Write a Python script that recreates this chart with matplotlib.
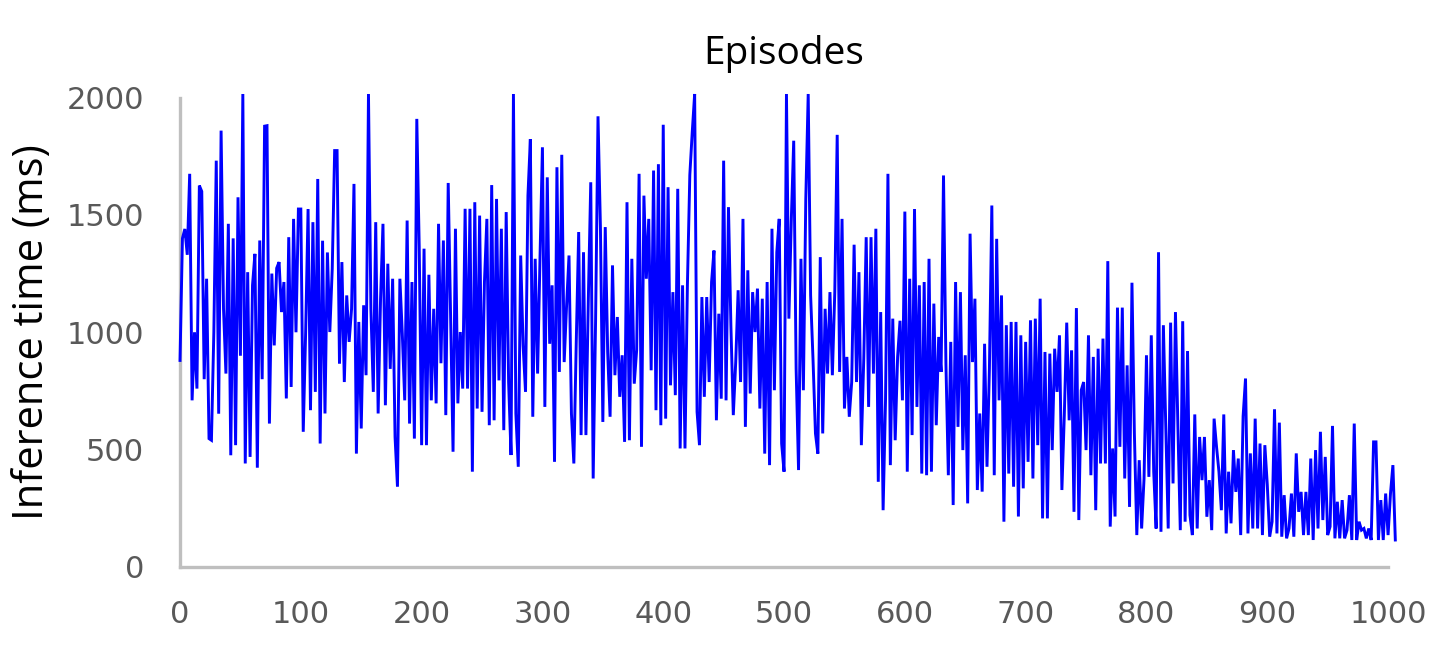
import numpy as np
import matplotlib
matplotlib.use("Agg")
import matplotlib.pyplot as plt

title = "Episodes"
y_label = "Inference time (ms)"
x_ticks = [0, 100, 200, 300, 400, 500, 600, 700, 800, 900, 1000]
y_ticks = [0, 500, 1000, 1500, 2000]

# inference time (ms), one value every 2 episodes
seg_000 = [880, 1400, 1440, 1330, 1675, 710, 1000, 760, 1625, 1600,
           800, 1228, 547, 540, 1000, 1731, 653, 1859, 1100, 824,
           1462, 476, 1400, 519, 1575, 900, 2015, 441, 1256, 469,
           1200, 1334, 423, 1391, 800, 1878, 1880, 611, 1250, 944,
           1273, 1299, 1086, 1214, 718, 1405, 767, 1483, 1000, 1525]
seg_100 = [1525, 576, 1000, 1525, 668, 1469, 746, 1653, 526, 1390,
           654, 1340, 1001, 1270, 1774, 1774, 866, 1299, 788, 1157,
           959, 1100, 1632, 483, 1044, 590, 1115, 817, 2015, 1100,
           746, 1469, 654, 1143, 1462, 689, 1292, 844, 1228, 554,
           342, 1228, 994, 710, 1476, 611, 1214, 547, 1909, 1364]
seg_200 = [519, 1356, 519, 1245, 710, 1100, 697, 1462, 868, 1391,
           647, 1636, 1072, 491, 1441, 697, 1001, 760, 1526, 760,
           1526, 406, 1554, 675, 1497, 661, 1214, 1483, 604, 1627,
           625, 1568, 795, 1441, 583, 1512, 788, 477, 2015, 654,
           427, 1327, 944, 746, 1582, 1823, 640, 1313, 824, 1320]
seg_300 = [1788, 682, 1660, 951, 1200, 448, 1703, 831, 1756, 873,
           1115, 1327, 654, 441, 959, 1427, 562, 1341, 562, 1143,
           1639, 377, 1050, 1920, 1448, 618, 1448, 916, 640, 1285,
           817, 1065, 725, 902, 533, 1554, 540, 1313, 781, 924,
           1675, 512, 1582, 1228, 1483, 838, 1689, 668, 1716, 604]
seg_400 = [1884, 632, 1618, 774, 1171, 732, 1611, 505, 1200, 505,
           1200, 1670, 1852, 2015, 661, 519, 1150, 725, 1150, 788,
           1214, 1348, 625, 1079, 717, 1731, 710, 1533, 1029, 647,
           873, 1179, 788, 1483, 597, 1264, 739, 1171, 1001, 1186,
           675, 1143, 483, 1214, 434, 1441, 753, 1341, 1483, 526]
seg_500 = [406, 2015, 1058, 1476, 1816, 845, 413, 1313, 753, 1568,
           2015, 1157, 881, 569, 483, 1320, 569, 1100, 824, 1171,
           817, 1171, 1841, 831, 1483, 675, 895, 640, 788, 1373,
           788, 1256, 519, 888, 1405, 682, 1405, 824, 1441, 363,
           1086, 242, 710, 1675, 434, 1058, 540, 895, 1049, 710]
seg_600 = [1514, 406, 1228, 562, 1525, 682, 1200, 398, 1214, 391,
           1313, 406, 1122, 604, 980, 831, 1668, 866, 391, 959,
           264, 1214, 597, 1171, 498, 902, 271, 1420, 873, 1143,
           328, 654, 321, 951, 427, 845, 1540, 391, 1398, 710,
           1157, 193, 1030, 398, 1044, 342, 1044, 215, 987, 335]
seg_700 = [959, 448, 1051, 377, 1058, 519, 1143, 207, 916, 207,
           909, 498, 930, 746, 987, 328, 647, 1041, 625, 923,
           235, 1103, 200, 753, 788, 498, 987, 391, 895, 242,
           930, 441, 973, 441, 1303, 172, 505, 215, 1105, 512,
           1105, 377, 859, 256, 1211, 569, 136, 455, 164, 377]
seg_800 = [902, 384, 987, 406, 164, 1341, 150, 1030, 590, 164,
           1041, 356, 1086, 604, 157, 1047, 193, 920, 221, 136,
           650, 164, 554, 370, 554, 214, 370, 157, 632, 512,
           406, 242, 650, 143, 406, 186, 498, 320, 462, 136,
           642, 803, 143, 484, 164, 632, 164, 526, 136, 519]
seg_900 = [352, 129, 193, 672, 143, 615, 129, 306, 122, 164,
           313, 129, 484, 235, 320, 136, 320, 136, 462, 115,
           498, 164, 576, 200, 469, 136, 172, 601, 122, 278,
           122, 285, 122, 157, 306, 115, 611, 115, 193, 157,
           164, 122, 164, 115, 533, 533, 115, 285, 115, 313,
           136, 313, 434, 115]

values = np.array(seg_000 + seg_100 + seg_200 + seg_300 + seg_400 +
                  seg_500 + seg_600 + seg_700 + seg_800 + seg_900, dtype=float)
episodes = np.arange(0, 2 * len(values), 2)

plt.rcParams['font.family'] = ['Open Sans', 'DejaVu Sans']

fig = plt.figure(figsize=(14.31, 6.48), dpi=100)
ax = fig.add_axes([0.1258, 0.125, 0.8442, 0.7245])

ax.plot(episodes, values, color='#0000FF', linewidth=2.1, clip_on=False,
        solid_joinstyle='miter')

ax.set_xlim(0, 1000)
ax.set_ylim(0, 2000)
ax.set_xticks(x_ticks)
ax.set_yticks(y_ticks)
ax.tick_params(axis='both', length=0, labelsize=22, labelcolor='#595959')
ax.tick_params(axis='x', pad=24)
ax.tick_params(axis='y', pad=26)
for lab in ax.get_xticklabels() + ax.get_yticklabels():
    lab.set_family(['DejaVu Sans'])

for s in ['top', 'right']:
    ax.spines[s].set_visible(False)
for s in ['left', 'bottom']:
    ax.spines[s].set_color('#BFBFBF')
    ax.spines[s].set_linewidth(2.4)
    ax.spines[s].set_zorder(0)

ax.set_title(title, fontsize=28, color='black', pad=24)
ax.set_ylabel(y_label, fontsize=30, color='black', labelpad=10)

fig.savefig('out.png', dpi=100, facecolor='white')
